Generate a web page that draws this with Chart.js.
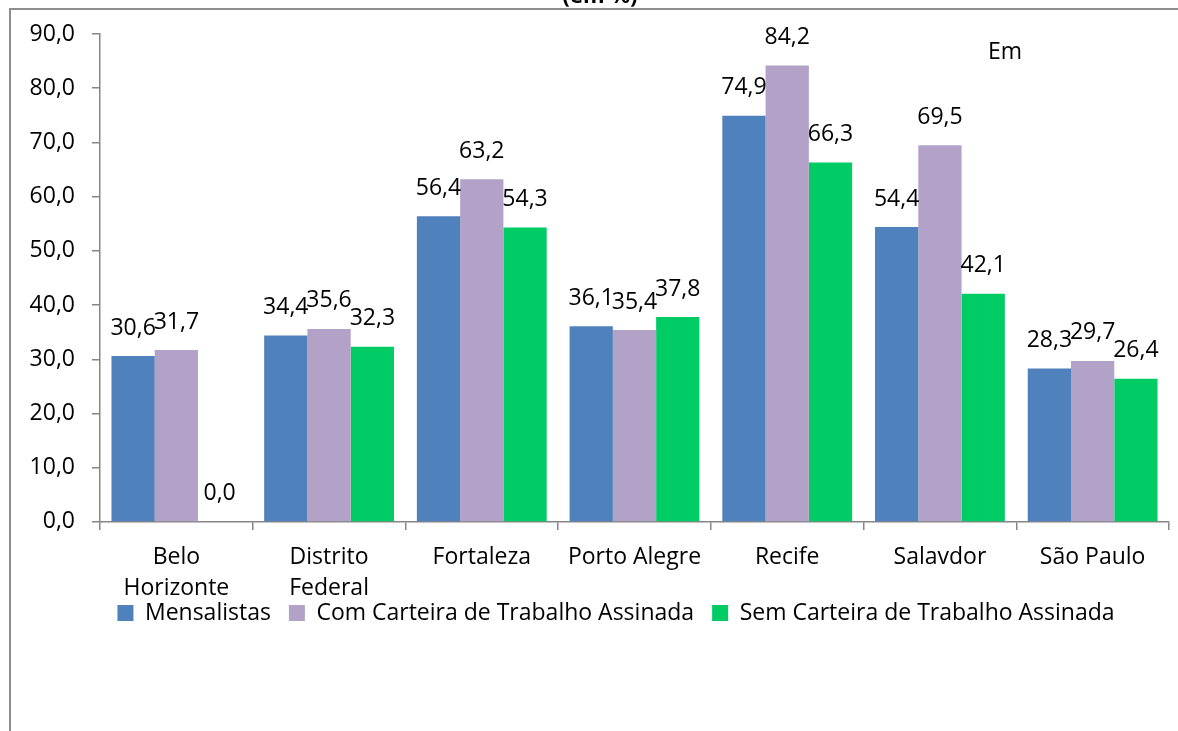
<!DOCTYPE html>
<html>
<head>
<meta charset="utf-8">
<script src="https://cdn.jsdelivr.net/npm/chart.js@4"></script>
<style>
  html, body { margin: 0; padding: 0; background: #fff; }
  #wrap { width: 1178px; height: 731px; position: relative; }
</style>
</head>
<body>
<div id="wrap"><canvas id="chart"></canvas></div>
<script>
const cities = [['Belo', 'Horizonte'], ['Distrito', 'Federal'], 'Fortaleza', 'Porto Alegre', 'Recife', 'Salavdor', 'São Paulo']
const mensalistas = [30.6, 34.4, 56.4, 36.1, 74.9, 54.4, 28.3]
const comCarteira = [31.7, 35.6, 63.2, 35.4, 84.2, 69.5, 29.7]
const semCarteira = [0.0, 32.3, 54.3, 37.8, 66.3, 42.1, 26.4]
const seriesNames = ['Mensalistas', 'Com Carteira de Trabalho Assinada', 'Sem Carteira de Trabalho Assinada']
const seriesColors = ['#4f81bd', '#b2a2c7', '#00cc66']
const yMin = 0
const yMax = 90
const yStep = 10

const AXIS_GRAY = '#868686'
const FONT = 'Open Sans'
const TEXT_SIZE = 23

const fmt = v => v.toFixed(1).replace('.', ',')

Chart.defaults.font.family = FONT
Chart.defaults.color = '#000'

// frame lines, cut-off title and the stray "Em" text box
const framePlugin = {
  id: 'frame',
  beforeDraw (chart) {
    const ctx = chart.ctx
    ctx.save()
    ctx.fillStyle = '#fff'
    ctx.fillRect(0, 0, chart.width, chart.height)
    ctx.fillStyle = '#8e8e8e'
    ctx.fillRect(9, 8, chart.width - 9, 2)
    ctx.fillRect(9, 8, 2, chart.height - 8)
    ctx.restore()
  },
  afterDraw (chart) {
    const ctx = chart.ctx
    ctx.save()
    ctx.fillStyle = '#000'
    ctx.font = 'bold 22px "' + FONT + '"'
    ctx.textAlign = 'center'
    ctx.textBaseline = 'alphabetic'
    ctx.fillText('(em %)', 600, 3)
    ctx.font = TEXT_SIZE + 'px "' + FONT + '"'
    ctx.textAlign = 'left'
    ctx.fillText('Em', 988, 59)
    ctx.restore()
  }
}

// value above every bar
const valueLabels = {
  id: 'valueLabels',
  afterDatasetsDraw (chart) {
    const ctx = chart.ctx
    ctx.save()
    ctx.fillStyle = '#000'
    ctx.font = TEXT_SIZE + 'px "' + FONT + '"'
    ctx.textAlign = 'center'
    ctx.textBaseline = 'middle'
    chart.data.datasets.forEach((ds, i) => {
      chart.getDatasetMeta(i).data.forEach((bar, j) => {
        ctx.fillText(fmt(ds.data[j]), bar.x, bar.y - 28)
      })
    })
    ctx.restore()
  }
}

// legend row sits just under the category labels, centred on the whole chart object
const legendShift = {
  id: 'legendShift',
  afterLayout (chart) {
    const lg = chart.legend
    if (!lg) return
    const dx = 616 - (lg.left + lg.right) / 2
    lg.left += dx
    lg.right += dx
    const dy = 583.5 - lg.top
    lg.top += dy
    lg.bottom += dy
  }
}

new Chart(document.getElementById('chart'), {
  type: 'bar',
  data: {
    labels: cities,
    datasets: [
      { label: seriesNames[0], data: mensalistas, backgroundColor: seriesColors[0] },
      { label: seriesNames[1], data: comCarteira, backgroundColor: seriesColors[1] },
      { label: seriesNames[2], data: semCarteira, backgroundColor: seriesColors[2] }
    ]
  },
  options: {
    responsive: true,
    maintainAspectRatio: false,
    devicePixelRatio: 1,
    animation: false,
    datasets: {
      bar: { borderWidth: 0, categoryPercentage: 0.85, barPercentage: 1 }
    },
    layout: { padding: { top: 34, right: 9, bottom: 64, left: 0 } },
    plugins: {
      tooltip: { enabled: false },
      title: { display: false },
      legend: {
        position: 'bottom',
        labels: {
          boxWidth: 16,
          boxHeight: 16,
          padding: 18,
          color: '#000',
          font: { size: TEXT_SIZE }
        }
      }
    },
    scales: {
      x: {
        grid: { display: true, drawOnChartArea: false, offset: true, tickLength: 8, color: AXIS_GRAY, lineWidth: 1.5 },
        border: { color: AXIS_GRAY, width: 1.5 },
        ticks: { color: '#000', font: { size: TEXT_SIZE, lineHeight: 1.35 }, padding: 12, maxRotation: 0, autoSkip: false }
      },
      y: {
        min: yMin,
        max: yMax,
        afterFit (scale) { scale.width = 100 },
        grid: { display: true, drawOnChartArea: false, tickLength: 8, color: AXIS_GRAY, lineWidth: 1.5 },
        border: { color: AXIS_GRAY, width: 1.5 },
        ticks: { stepSize: yStep, color: '#000', font: { size: TEXT_SIZE }, padding: 17, callback: v => fmt(v) }
      }
    }
  },
  plugins: [framePlugin, valueLabels, legendShift]
})
</script>
</body>
</html>
